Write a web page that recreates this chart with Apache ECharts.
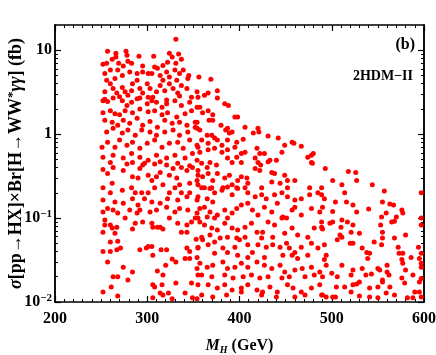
<!DOCTYPE html>
<html><head><meta charset="utf-8">
<script src="https://cdn.jsdelivr.net/npm/echarts@6/dist/echarts.min.js"></script>
<style>html,body{margin:0;padding:0;background:#fff}#c{width:436px;height:355px}</style>
</head><body><div id="c"></div>
<script>
// ---- data (M_H in GeV, sigma x Br in fb) ----
const xTickValues = [200, 300, 400, 500, 600];
const yTickValues = [0.01, 0.1, 1, 10];
const yTickLabels = ['{b|10}{sup|\u22122}', '{b|10}{sup|\u22121}', '{b|1}', '{b|10}'];
const yMinorTicks = [0.02,0.03,0.04,0.05,0.06,0.07,0.08,0.09,0.2,0.3,0.4,0.5,0.6,0.7,0.8,0.9,2,3,4,5,6,7,8,9];
const panelTag = '(b)';
const modelTag = '2HDM\u2212II';

const ptsA = [[331,13.5],[257,9.7],[266,9.2],[277,9.7],[291,8.5],[307,8.5],[324,9.2],[334,9.0],[252,6.8],[256,7.0],[262,7.8],[266,8.3],[269,7.0],[274,6.5],[278,8.7],[279,7.4],[283,7.0],[295,6.5],[301,5.3],[305,5.3],[308,6.3],[311,6.1],[317,6.6],[322,7.2],[327,8.3],[331,7.0],[337,7.8],[330,5.8],[335,5.3],[345,5.0],
[256,4.4],[260,4.0],[254,3.2],[263,3.5],[267,3.1],[273,3.6],[276,3.2],[279,2.9],[283,3.3],[284,4.0],[289,4.4],[292,3.5],[295,3.1],[300,4.0],[303,3.5],[306,2.75],[310,3.2],[314,3.8],[317,4.4],[319,3.3],[324,4.0],[328,3.5],[332,4.4],[333,3.1],[337,3.8],[343,3.5],[344,4.6],[348,2.75],[354,3.2],[254,2.6],[270,2.8],[289,2.65],[301,2.75],[321,2.55],[335,2.85],
[260,5.8],[268,5.8],[273,5.0],[281,5.5],[289,5.3],[295,5.5],[314,5.0],[321,5.5],[324,4.8],[339,5.8],[254,5.3],[265,4.6],[356,4.8],[369,4.5]];

const ptsB = [[252,2.5],[257,2.45],[263,2.7],[273,2.5],[278,2.2],[283,2.4],[292,2.7],[300,2.3],[305,2.5],[310,2.4],[316,2.1],[321,2.3],[330,2.5],[337,2.2],[346,2.4],[354,2.1],
[252,1.8],[260,1.9],[265,1.75],[270,1.7],[276,1.9],[284,1.8],[292,2.0],[301,1.85],[308,1.9],[316,1.7],[322,1.8],[332,1.6],[341,1.75],[348,1.9],
[254,1.47],[262,1.39],[268,1.28],[274,1.47],[281,1.35],[289,1.55],[295,1.28],[303,1.42],[311,1.21],[319,1.47],[327,1.35],[335,1.39],[343,1.28],[352,1.39],
[256,1.06],[263,1.18],[273,1.03],[279,1.12],[287,0.97],[294,1.12],[303,1.06],[310,0.97],[319,1.06],[328,1.12],[335,0.97],[344,1.06],[354,1.18],
[251,0.70],[257,0.80],[265,0.70],[270,0.85],[278,0.74],[284,0.80],[292,0.68],[300,0.78],[308,0.85],[316,0.70],[324,0.78],[333,0.80],[339,0.68],[346,0.85],[354,0.74],
[252,0.53],[263,0.56],[274,0.52],[283,0.59],[292,0.53],[301,0.49],[310,0.56],[321,0.52],[330,0.56],[341,0.52],[349,0.59],
[260,0.46],[278,0.44],[295,0.43],[314,0.47],[333,0.45],[346,0.42]];

const ptsC = [[252,0.38],[263,0.40],[274,0.37],[284,0.46],[292,0.39],[297,0.45],[308,0.44],[314,0.35],[321,0.43],[328,0.39],[337,0.40],[343,0.37],[349,0.40],[355,0.325],
[257,0.34],[284,0.31],[290,0.30],[301,0.325],[305,0.28],[310,0.31],[324,0.325],[332,0.30],[335,0.25],[346,0.26],[354,0.28],
[252,0.23],[262,0.26],[273,0.215],[283,0.23],[287,0.20],[294,0.20],[301,0.20],[308,0.23],[317,0.25],[324,0.20],[330,0.23],[337,0.20],[346,0.20],
[252,0.164],[260,0.20],[265,0.155],[274,0.15],[284,0.17],[290,0.143],[297,0.17],[305,0.155],[314,0.15],[322,0.17],[333,0.164],[343,0.18],[354,0.164],
[252,0.118],[257,0.13],[263,0.125],[268,0.115],[281,0.125],[289,0.115],[292,0.125],[303,0.118],[310,0.125],[321,0.135],[330,0.118],[335,0.13],[344,0.125],[354,0.115],
[254,0.095],[260,0.083],[276,0.10],[287,0.087],[295,0.09],[305,0.087],[314,0.078],[324,0.10],[333,0.087],[343,0.083],[348,0.09],[352,0.10]];

const ptsD = [[254,0.083],[262,0.076],[265,0.066],[267,0.078],[252,0.068],[284,0.074],[306,0.078],[311,0.078],[317,0.074],[337,0.068],[343,0.068],[353,0.056],
[260,0.052],[268,0.053],[271,0.044],[267,0.042],[252,0.040],[260,0.040],[292,0.042],[299,0.044],[301,0.046],[305,0.046],[306,0.036],[315,0.042],[321,0.042],[327,0.0325],[331,0.030],[343,0.044],[346,0.040],[341,0.033],[346,0.033],[354,0.034],[355,0.044],
[257,0.030],[274,0.026],[284,0.0228],[279,0.0183],[263,0.020],[268,0.020],[261,0.0151],[252,0.0132],[306,0.016],[308,0.0151],[311,0.0234],[316,0.016],[317,0.021],[320,0.0275],[331,0.0168],[348,0.0168],[354,0.025],[355,0.021],
[268,0.0118],[306,0.0112],[314,0.0128],[317,0.0121],[323,0.0128],[327,0.0109],[341,0.0128],[349,0.0112],[354,0.0109]];

const ptsE = [[355,2.75],[362,2.9],[366,3.1],[376,2.7],[376,3.3],[384,2.3],[388,2.2],[357,2.1],[366,1.9],[371,1.7],[360,1.8],[367,1.47],[371,1.47],[380,1.28],[395,1.6],[398,1.6],
[354,1.39],[352,1.21],[357,1.12],[365,0.97],[370,0.97],[376,0.85],[385,1.12],[387,1.18],[389,1.03],[392,1.06],[397,0.80],[404,0.87],[406,1.21],[415,1.03],[420,1.18],[421,1.06],[431,0.95],[442,0.90],[449,0.74],[457,0.80],[459,0.78],[467,0.72],[480,0.59],[474,0.53],[478,0.46],[479,0.45],[478,0.56],
[359,0.85],[366,0.78],[373,0.90],[381,0.74],[387,0.85],[355,0.70],[357,0.61],[366,0.65],[373,0.68],[381,0.61],[387,0.65],[402,0.59],[406,0.61],[395,0.70],[419,0.68],[422,0.59],[427,0.59],[446,0.61],[440,0.49],[433,0.49],
[354,0.49],[359,0.45],[365,0.40],[368,0.46],[375,0.43],[387,0.52],[392,0.46],[397,0.53],[402,0.46],[417,0.52],[420,0.46],[423,0.43],[431,0.47],
[355,0.37],[360,0.31],[366,0.34],[371,0.28],[376,0.34],[384,0.30],[389,0.325],[398,0.28],[402,0.31],[408,0.30],[417,0.39],[422,0.37],[435,0.35],[438,0.34],[449,0.325],[435,0.27],[444,0.26],[452,0.28],[460,0.28],[452,0.23],[476,0.23],
[355,0.25],[362,0.23],[370,0.23],[382,0.23],[392,0.25],[397,0.23],[406,0.23],[409,0.26],[424,0.23]];

const ptsF = [[359,0.23],[368,0.225],[373,0.20],[381,0.215],[387,0.235],[392,0.19],[398,0.225],[409,0.20],[417,0.18],[424,0.19],[429,0.17],[438,0.19],[446,0.20],[452,0.18],[460,0.164],[467,0.17],[476,0.19],[485,0.20],[489,0.23],[355,0.18],[365,0.17],[371,0.155],
[357,0.13],[362,0.135],[368,0.118],[376,0.109],[384,0.125],[392,0.115],[397,0.13],[402,0.143],[409,0.15],[414,0.125],[420,0.109],[427,0.135],[435,0.118],[441,0.15],[447,0.103],[451,0.10],[457,0.125],[460,0.135],[467,0.109],[478,0.13],[487,0.118],[355,0.10],[365,0.103],[373,0.10],[387,0.10],
[357,0.09],[362,0.083],[370,0.076],[376,0.072],[384,0.087],[392,0.076],[398,0.072],[406,0.078],[413,0.087],[419,0.068],[425,0.068],[431,0.09],[438,0.083],[446,0.10],[449,0.066],[457,0.076],[463,0.063],[474,0.059],[481,0.076],[489,0.09],[359,0.059],[368,0.063],[379,0.058],[387,0.059],[397,0.058],[406,0.059],[424,0.058],[436,0.059],
[355,0.045],[360,0.055],[366,0.048],[373,0.052],[382,0.044],[387,0.039],[395,0.045],[400,0.055],[409,0.048],[414,0.039],[420,0.048],[429,0.045],[436,0.048],[444,0.045],[451,0.050],[454,0.044],[460,0.039],[467,0.045],[478,0.050],[485,0.044],[447,0.036],[457,0.036],[463,0.033],[474,0.036],[373,0.038],[398,0.036],[409,0.034],[427,0.034],
[357,0.029],[365,0.026],[371,0.0275],[382,0.030],[387,0.025],[395,0.026],[402,0.029],[409,0.026],[419,0.030],[427,0.0275],[435,0.025],[444,0.0275],[449,0.0228],[460,0.024],[468,0.025],[478,0.026],[487,0.0228],
[359,0.021],[370,0.020],[384,0.021],[393,0.0193],[404,0.020],[413,0.021],[422,0.0193],[431,0.020],[446,0.0193],[454,0.020],[471,0.020],[481,0.021],
[355,0.016],[366,0.016],[376,0.0147],[384,0.016],[392,0.0139],[402,0.0147],[409,0.016],[419,0.0139],[425,0.0132],[433,0.0151],[441,0.0132],[452,0.016],[458,0.0147],[467,0.0132],[478,0.0147],[487,0.016],
[359,0.0121],[371,0.0115],[386,0.0121],[402,0.0132],[424,0.0121],[440,0.0115],[460,0.0115],[471,0.0121],[489,0.0121]];

const ptsG = [[493,0.39],[518,0.36],[526,0.35],[527,0.28],[501,0.28],[511,0.25],[544,0.25],[557,0.21],[489,0.19],[492,0.17],[514,0.20],[504,0.155],[516,0.155],[523,0.143],[527,0.118],[555,0.155],[563,0.147],[567,0.143],[576,0.125],[577,0.115],[540,0.128],[559,0.115],[501,0.12],[490,0.135],
[501,0.09],[498,0.087],[511,0.095],[517,0.09],[510,0.078],[523,0.083],[521,0.068],[554,0.103],[553,0.083],[555,0.068],[565,0.09],[568,0.092],[570,0.103],[580,0.063],[597,0.083],[597,0.20],[597,0.10],[489,0.078],[490,0.074],
[492,0.048],[506,0.055],[511,0.059],[509,0.063],[520,0.050],[523,0.050],[530,0.066],[533,0.044],[538,0.039],[541,0.038],[539,0.033],[546,0.052],[555,0.058],[554,0.048],[568,0.058],[572,0.045],[573,0.038],[577,0.038],[576,0.032],[577,0.029],[586,0.034],[594,0.045],[595,0.033],[597,0.038],
[494,0.036],[492,0.032],[494,0.0275],[500,0.022],[506,0.020],[511,0.0275],[523,0.024],[521,0.021],[533,0.025],[537,0.021],[543,0.0215],[550,0.025],[552,0.024],[560,0.0228],[562,0.021],[560,0.0275],[555,0.0183],[576,0.0193],[580,0.024],[588,0.021],[597,0.026],[595,0.0173],[597,0.029],[597,0.019],
[490,0.020],[505,0.0151],[514,0.0151],[523,0.016],[527,0.0164],[530,0.0173],[541,0.0147],[550,0.0151],[555,0.0173],[563,0.0151],[579,0.0168],[590,0.0132],[595,0.0132],[597,0.0115],
[490,0.0121],[494,0.0115],[501,0.0115],[504,0.0115],[521,0.0132],[530,0.0118],[541,0.0115],[550,0.0112],[559,0.0128],[568,0.0121],[582,0.0112],[588,0.0112]];

const allPoints = [].concat(ptsA, ptsB, ptsC, ptsD, ptsE, ptsF, ptsG);

// ---- chart ----
const FF = 'Liberation Serif';
const chart = echarts.init(document.getElementById('c'), null, {renderer: 'canvas'});
const lineStyle = {color: '#000', width: 1.5};
function xAx(pos, labels) {
  return {
    type: 'value', position: pos, min: 200, max: 600, interval: 100,
    axisLine: {show: true, lineStyle: lineStyle},
    axisTick: {show: true, inside: true, length: 6, lineStyle: {color: '#000', width: 1.2}},
    minorTick: {show: true, splitNumber: 10, length: 3, lineStyle: {color: '#000', width: 1}},
    splitLine: {show: false}, minorSplitLine: {show: false},
    axisLabel: labels ? {show: true, margin: 9, color: '#000', fontFamily: FF, fontWeight: 'bold', fontSize: 16,
      customValues: xTickValues} : {show: false}
  };
}
function yAx(pos, major, labels) {
  return {
    type: 'log', logBase: 10, position: pos, min: 0.01, max: 20,
    axisLine: {show: true, lineStyle: lineStyle},
    axisTick: {show: true, inside: true, length: major ? 6 : 3,
      customValues: major ? yTickValues : yMinorTicks,
      lineStyle: {color: '#000', width: major ? 1.2 : 1}},
    splitLine: {show: false},
    axisLabel: labels ? {
      show: true, margin: 3, customValues: yTickValues,
      formatter: function (v) {
        const k = Math.round(Math.log10(v)) + 2;
        return yTickLabels[k];
      },
      rich: {
        b: {fontFamily: FF, fontWeight: 'bold', fontSize: 16, color: '#000'},
        sup: {fontFamily: FF, fontWeight: 'bold', fontSize: 11, color: '#000', padding: [0, 0, 8, 0]}
      }
    } : {show: false}
  };
}
const xA = xAx('bottom', true);
xA.name = '{i|M}{sub|H}{b| (GeV)}';
xA.nameLocation = 'middle';
xA.nameMoveOverlap = false;
xA.nameGap = 35;
xA.nameTextStyle = {rich: {
  i: {fontFamily: FF, fontStyle: 'italic', fontWeight: 'bold', fontSize: 16, color: '#000'},
  sub: {fontFamily: FF, fontStyle: 'italic', fontWeight: 'bold', fontSize: 10, color: '#000', padding: [8, 0, 0, 0]},
  b: {fontFamily: FF, fontWeight: 'bold', fontSize: 16, color: '#000'}
}};
const yA = yAx('left', true, true);
yA.name = '{s|\u03c3}{b|[pp\u2192HX]\u00d7Br[H\u2192WW}{sup|*}{s|\u03b3\u03b3}{b|] (fb)}';
yA.nameLocation = 'middle';
yA.nameRotate = 90;
yA.nameMoveOverlap = false;
yA.nameGap = 29;
yA.nameTextStyle = {rich: {
  s: {fontFamily: FF, fontStyle: 'italic', fontWeight: 'bold', fontSize: 18, color: '#000'},
  b: {fontFamily: FF, fontWeight: 'bold', fontSize: 18, color: '#000'},
  sup: {fontFamily: FF, fontWeight: 'bold', fontSize: 13, color: '#000', padding: [0, 0, 7, 0]}
}};

chart.setOption({
  backgroundColor: '#fff',
  animation: false,
  grid: {left: 55, right: 12, top: 25, bottom: 53, containLabel: false, outerBoundsMode: 'none'},
  xAxis: [xA, xAx('top', false)],
  yAxis: [yA, yAx('left', false, false), yAx('right', true, false), yAx('right', false, false)],
  series: [{
    type: 'scatter', xAxisIndex: 0, yAxisIndex: 0,
    symbol: 'circle', symbolSize: 5,
    itemStyle: {color: '#ff0000', opacity: 1},
    data: allPoints
  }],
  graphic: [
    {type: 'text', right: 21, top: 37, style: {text: panelTag, fontFamily: FF, fontWeight: 'bold', fontSize: 16, fill: '#000'}},
    {type: 'text', right: 23, top: 69, style: {text: modelTag, fontFamily: FF, fontWeight: 'bold', fontSize: 14, fill: '#000'}}
  ]
});
</script></body></html>
